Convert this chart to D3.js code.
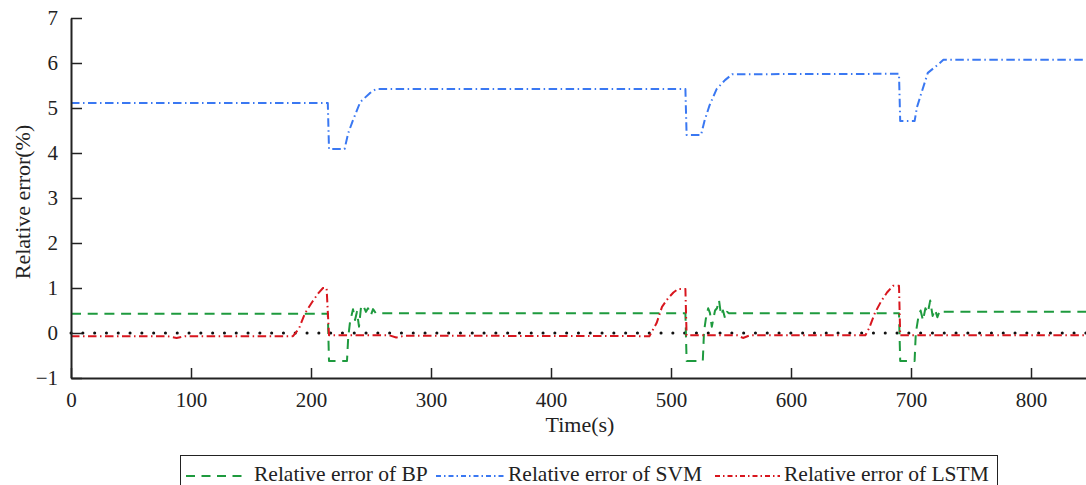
<!DOCTYPE html>
<html>
<head>
<meta charset="utf-8">
<script src="https://cdn.jsdelivr.net/npm/d3@7"></script>
<style>
  body { margin: 0; background: #fff; }
  text { font-family: "Liberation Serif", "Times New Roman", serif; fill: #222; }
</style>
</head>
<body>
<div class="chart"></div>
<script>
// values: [time (s), relative error (%)]
var bpData = [[0,0.43],[214,0.43],[215,-0.62],[230,-0.62],[231,-0.1],[232.5,0.24],[235,0.53],[236.7,0.29],
  [238.3,0.47],[240,0.14],[241.7,0.58],[243.3,0.62],[245.8,0.47],[247.5,0.55],[250,0.40],[251.7,0.53],[254,0.44],
  [512,0.44],[513,-0.62],[526.5,-0.62],[527.5,0.02],[529,0.31],[531,0.55],[532.5,0.44],[534,0.14],[536.7,0.5],
  [538.3,0.55],[540,0.73],[541.7,0.4],[543.3,0.5],[545,0.33],[546.7,0.47],[548.3,0.44],
  [690,0.44],[691,-0.62],[703,-0.62],[704,0.0],[706,0.33],[708,0.5],[710,0.28],[712,0.55],[714,0.45],
  [716,0.72],[718,0.38],[720,0.52],[722,0.35],[724,0.5],[727,0.47],[850,0.47]];

var svmData = [[0,5.11],[214,5.11],[215,4.09],[228,4.09],[231,4.44],[235,4.73],[241,5.13],[249,5.33],[254,5.42],
  [512,5.42],[513,4.40],[525,4.40],[528,4.72],[532,5.05],[538,5.42],[545,5.62],[551,5.75],
  [690,5.76],[691,4.71],[703,4.71],[705,5.02],[709,5.36],[714,5.78],[720,5.91],[727,6.07],[850,6.07]];

var lstmData = [[0,-0.07],[80,-0.07],[88,-0.11],[95,-0.07],[185,-0.07],[190,0.1],[195,0.44],[201,0.69],
  [206,0.88],[210,1.0],[213,1.0],[215,-0.05],[265,-0.05],[271,-0.1],[278,-0.06],
  [482,-0.07],[488,0.22],[492.5,0.58],[497.5,0.77],[502,0.9],[506,0.98],[512,0.98],[513,-0.05],
  [555,-0.05],[560,-0.11],[566,-0.05],[662,-0.05],[665,0.1],[670,0.45],[675,0.7],[680,0.9],[685,1.05],
  [690,1.05],[691,-0.05],[850,-0.05]];

var zeroData = [[0,0],[850,0]];

var xTicks = [0,100,200,300,400,500,600,700,800];
var yTicks = [-1,0,1,2,3,4,5,6,7];
var legendNames = ["Relative error of BP", "Relative error of SVM", "Relative error of LSTM"];

var width = 1086,
  height = 485;

var svg = d3.select(".chart")
  .append("svg")
  .attr("width", width)
  .attr("height", height);

var x = d3.scaleLinear().domain([0, 850]).range([71, 1091]);
var y = d3.scaleLinear().domain([-1, 7]).range([378, 18]);

var line = d3.line()
  .x(function(d) { return x(d[0]); })
  .y(function(d) { return y(d[1]); });

var series = [
  { data: zeroData, color: "#111", dash: "0.1,11.7", width: 3, cap: "round" },
  { data: bpData, color: "#1e9a3e", dash: "10,6.7", width: 2, cap: "butt" },
  { data: svmData, color: "#3a78f2", dash: "8.5,3.5,1.5,3.5", width: 2, cap: "butt" },
  { data: lstmData, color: "#d8161e", dash: "8.5,3.5,1.5,3.5", width: 2, cap: "butt" }
];

svg.append("g").selectAll("path")
  .data(series)
  .enter()
  .append("path")
  .attr("d", function(d) { return line(d.data); })
  .attr("fill", "none")
  .attr("stroke", function(d) { return d.color; })
  .attr("stroke-width", function(d) { return d.width; })
  .attr("stroke-dasharray", function(d) { return d.dash; })
  .attr("stroke-linecap", function(d) { return d.cap; })
  .attr("stroke-linejoin", "round");

// axes, ticks pointing inward
var xAxis = svg.append("g")
  .attr("transform", "translate(0," + y(-1) + ")")
  .call(d3.axisBottom(x).tickValues(xTicks).tickSize(-10).tickSizeOuter(0).tickPadding(14));

var yAxis = svg.append("g")
  .attr("transform", "translate(" + x(0) + ",0)")
  .call(d3.axisLeft(y).tickValues(yTicks).tickSize(-11).tickSizeOuter(0).tickPadding(13));

[xAxis, yAxis].forEach(function(a) {
  a.select(".domain").attr("stroke", "#222").attr("stroke-width", 2);
  a.selectAll(".tick line").attr("stroke", "#222").attr("stroke-width", 1.5);
  a.selectAll(".tick text")
    .attr("fill", "#222")
    .style("font-family", "'Liberation Serif', serif")
    .style("font-size", "21px");
});

svg.append("text")
  .attr("x", 580)
  .attr("y", 432)
  .attr("text-anchor", "middle")
  .style("font-size", "22px")
  .text("Time(s)");

svg.append("text")
  .attr("transform", "translate(30,202) rotate(-90)")
  .attr("text-anchor", "middle")
  .style("font-size", "22px")
  .text("Relative error(%)");

// legend
var legend = svg.append("g");
legend.append("rect")
  .attr("x", 180.5)
  .attr("y", 455.5)
  .attr("width", 817)
  .attr("height", 40)
  .attr("fill", "#fff")
  .attr("stroke", "#222")
  .attr("stroke-width", 1);

var lineStart = [186, 436, 715],
  lineEnd = [248, 504, 780],
  textStart = [254, 508, 784];

series.slice(1).forEach(function(s, i) {
  legend.append("line")
    .attr("x1", lineStart[i]).attr("x2", lineEnd[i])
    .attr("y1", 476).attr("y2", 476)
    .attr("stroke", s.color)
    .attr("stroke-width", 2)
    .attr("stroke-dasharray", i == 0 ? "9,6.5" : "5,3,1.5,3");
  legend.append("text")
    .attr("x", textStart[i])
    .attr("y", 481)
    .style("font-size", "21.5px")
    .text(legendNames[i]);
});
</script>
</body>
</html>
